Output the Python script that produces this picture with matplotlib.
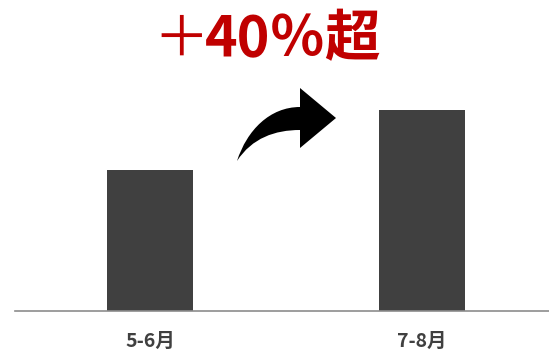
import matplotlib.pyplot as plt
from matplotlib.path import Path
from matplotlib.patches import PathPatch

plt.rcParams['font.family'] = ['Noto Sans CJK JP', 'DejaVu Sans']

periods = ['5-6月', '7-8月']
values = [100, 143]

W, H = 549, 352
fig = plt.figure(figsize=(W / 100, H / 100), dpi=100)
ax = fig.add_axes([0, (H - 311) / H, 1, (311 - 60) / H])

x = range(len(periods))
ax.bar(x, values, width=0.315, color='#404040', zorder=2)
ax.set_xlim(-150 / 272, 399 / 272)
ax.set_ylim(0, 143 * 251 / 201)

for s in ['top', 'right', 'left']:
    ax.spines[s].set_visible(False)
ax.spines['bottom'].set_color('#8c8c8c')
ax.spines['bottom'].set_linewidth(1.2)
ax.spines['bottom'].set_bounds(-135 / 272, 399 / 272)
ax.set_yticks([])
ax.set_xticks(list(x))
ax.set_xticklabels(periods, fontsize=14, fontweight='bold', color='#404040')
ax.tick_params(axis='x', length=0, pad=15)

# headline: thin plus sign, bold rest
fig.text(181 / W, 1 - 40 / H, '＋', color='#c00000', fontsize=40,
         fontweight='normal', ha='center', va='center')
fig.text(293 / W, 1 - 40 / H, '40％超', color='#c00000', fontsize=40,
         fontweight='bold', ha='center', va='center')

# curved arrow outline (pixel coords, y down)
pts = [(237, 161), (247, 130), (270, 107), (300, 107),
       (300, 88), (336, 118), (300, 148), (300, 130),
       (275, 130), (252, 138), (237, 161)]
codes = [Path.MOVETO, Path.CURVE4, Path.CURVE4, Path.CURVE4,
         Path.LINETO, Path.LINETO, Path.LINETO, Path.LINETO,
         Path.CURVE4, Path.CURVE4, Path.CURVE4]
verts = [(px / W, 1 - py / H) for px, py in pts]
fig.patches.append(PathPatch(Path(verts, codes), transform=fig.transFigure,
                             facecolor='black', edgecolor='none'))

fig.savefig('out.png', dpi=100)
